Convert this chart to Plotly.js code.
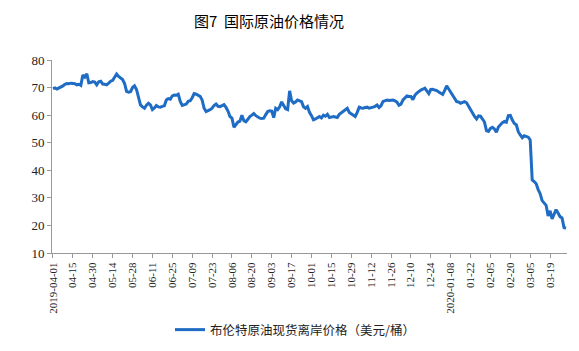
<!DOCTYPE html>
<html>
<head>
<meta charset="utf-8">
<script src="https://cdn.plot.ly/plotly-3.0.1.min.js"></script>
<style>html,body{margin:0;padding:0;background:#fff;}#chart{width:579px;height:351px;}</style>
</head>
<body>
<div id="chart"></div>
<script>
const dates = [
"2019-04-01","2019-04-02","2019-04-03","2019-04-04","2019-04-05","2019-04-08","2019-04-09","2019-04-10","2019-04-11","2019-04-12",
"2019-04-15","2019-04-16","2019-04-17","2019-04-18","2019-04-22","2019-04-23","2019-04-24","2019-04-25","2019-04-26","2019-04-29",
"2019-04-30","2019-05-01","2019-05-02","2019-05-03","2019-05-06","2019-05-07","2019-05-08","2019-05-09","2019-05-10","2019-05-13",
"2019-05-14","2019-05-15","2019-05-16","2019-05-17","2019-05-20","2019-05-21","2019-05-22","2019-05-23","2019-05-24","2019-05-27",
"2019-05-28","2019-05-29","2019-05-30","2019-05-31","2019-06-03","2019-06-04","2019-06-05","2019-06-06","2019-06-07","2019-06-10",
"2019-06-11","2019-06-12","2019-06-13","2019-06-14","2019-06-17","2019-06-18","2019-06-19","2019-06-20","2019-06-21","2019-06-24",
"2019-06-25","2019-06-26","2019-06-27","2019-06-28","2019-07-01","2019-07-02","2019-07-03","2019-07-04","2019-07-05","2019-07-08",
"2019-07-09","2019-07-10","2019-07-11","2019-07-12","2019-07-15","2019-07-16","2019-07-17","2019-07-18","2019-07-19","2019-07-22",
"2019-07-23","2019-07-24","2019-07-25","2019-07-26","2019-07-29","2019-07-30","2019-07-31","2019-08-01","2019-08-02","2019-08-05",
"2019-08-06","2019-08-07","2019-08-08","2019-08-09","2019-08-12","2019-08-13","2019-08-14","2019-08-15","2019-08-16","2019-08-19",
"2019-08-20","2019-08-21","2019-08-22","2019-08-23","2019-08-26","2019-08-27","2019-08-28","2019-08-29","2019-08-30","2019-09-02",
"2019-09-03","2019-09-04","2019-09-05","2019-09-06","2019-09-09","2019-09-10","2019-09-11","2019-09-12","2019-09-13","2019-09-16",
"2019-09-17","2019-09-18","2019-09-19","2019-09-20","2019-09-23","2019-09-24","2019-09-25","2019-09-26","2019-09-27","2019-09-30",
"2019-10-01","2019-10-02","2019-10-03","2019-10-04","2019-10-07","2019-10-08","2019-10-09","2019-10-10","2019-10-11","2019-10-14",
"2019-10-15","2019-10-16","2019-10-17","2019-10-18","2019-10-21","2019-10-22","2019-10-23","2019-10-24","2019-10-25","2019-10-28",
"2019-10-29","2019-10-30","2019-10-31","2019-11-01","2019-11-04","2019-11-05","2019-11-06","2019-11-07","2019-11-08","2019-11-11",
"2019-11-12","2019-11-13","2019-11-14","2019-11-15","2019-11-18","2019-11-19","2019-11-20","2019-11-21","2019-11-22","2019-11-25",
"2019-11-26","2019-11-27","2019-11-28","2019-11-29","2019-12-02","2019-12-03","2019-12-04","2019-12-05","2019-12-06","2019-12-09",
"2019-12-10","2019-12-11","2019-12-12","2019-12-13","2019-12-16","2019-12-17","2019-12-18","2019-12-19","2019-12-20","2019-12-23",
"2019-12-24","2019-12-26","2019-12-27","2019-12-30","2019-12-31","2020-01-01","2020-01-02","2020-01-03","2020-01-06","2020-01-07",
"2020-01-08","2020-01-09","2020-01-10","2020-01-13","2020-01-14","2020-01-15","2020-01-16","2020-01-17","2020-01-20","2020-01-21",
"2020-01-22","2020-01-23","2020-01-24","2020-01-27","2020-01-28","2020-01-29","2020-01-30","2020-01-31","2020-02-03","2020-02-04",
"2020-02-05","2020-02-06","2020-02-07","2020-02-10","2020-02-11","2020-02-12","2020-02-13","2020-02-14","2020-02-18","2020-02-19",
"2020-02-20","2020-02-21","2020-02-24","2020-02-25","2020-02-26","2020-02-27","2020-02-28","2020-03-02","2020-03-03","2020-03-04",
"2020-03-05","2020-03-06","2020-03-09","2020-03-10","2020-03-11","2020-03-12","2020-03-13","2020-03-16","2020-03-17","2020-03-18",
"2020-03-19","2020-03-20","2020-03-23","2020-03-24","2020-03-25","2020-03-26","2020-03-27","2020-03-30","2020-03-31"
];

const brent = [
69.6,69.9,69.5,69.8,70.3,70.6,71.2,71.5,71.4,71.6,
71.5,71.4,71.0,71.2,70.8,74.5,73.8,75.0,71.7,71.8,
72.2,72.0,71.0,72.1,72.3,71.3,71.2,71.0,71.6,72.3,
72.6,74.0,74.9,74.0,73.4,72.9,71.5,68.6,68.3,68.5,
70.0,70.6,69.3,66.5,63.7,63.0,62.5,63.6,64.3,63.7,
62.0,62.6,63.5,63.0,62.9,63.2,63.4,65.5,66.0,65.8,
67.0,67.3,67.2,67.6,65.0,63.5,63.8,64.0,65.0,65.2,
66.3,67.8,67.6,67.3,66.8,65.5,62.5,61.3,61.6,62.0,
62.5,63.5,64.0,63.2,63.1,63.5,63.8,62.8,61.5,59.5,
58.9,55.6,56.8,57.5,57.8,60.0,58.0,57.6,58.5,59.5,
60.0,60.6,59.8,59.3,58.9,58.8,58.9,60.2,61.3,61.6,
61.5,59.1,62.5,62.0,63.0,64.8,63.5,62.3,62.0,68.8,
65.2,64.4,64.8,65.5,65.2,64.9,63.0,62.5,63.1,61.0,
59.8,58.3,58.6,59.0,59.5,59.0,60.0,59.6,60.3,59.1,
59.4,59.5,59.3,59.1,60.3,60.8,61.3,62.0,62.5,61.0,
60.5,60.0,59.5,61.0,62.9,62.6,62.5,62.8,62.9,62.5,
62.6,62.9,63.2,63.7,62.8,63.5,65.0,65.3,65.5,65.3,
65.3,65.5,65.2,64.7,63.6,64.0,65.5,66.3,67.0,66.8,
66.8,65.6,67.2,68.0,68.6,69.1,69.4,69.8,68.8,67.8,
69.3,69.4,69.1,68.9,68.4,67.9,67.5,69.0,70.6,69.5,
68.3,67.0,65.8,64.9,64.8,64.3,64.6,64.9,64.5,63.3,
62.5,60.8,59.5,58.6,59.7,59.6,58.6,57.5,54.4,54.1,
55.2,55.6,55.0,53.8,55.7,56.7,57.3,57.7,57.4,59.8,
59.9,58.2,57.0,56.5,54.0,52.8,51.8,52.5,52.3,52.0,
51.0,36.5,35.9,35.1,33.0,31.5,29.0,28.1,27.3,23.4,
25.3,22.4,24.3,25.7,24.5,23.2,22.7,19.2,19.0
];

const tickDates = ["2019-04-01","2019-04-15","2019-04-30","2019-05-14","2019-05-28","2019-06-11","2019-06-25","2019-07-09","2019-07-23","2019-08-06","2019-08-20","2019-09-03","2019-09-17","2019-10-01","2019-10-15","2019-10-29","2019-11-12","2019-11-26","2019-12-10","2019-12-24","2020-01-08","2020-01-22","2020-02-05","2020-02-20","2020-03-05","2020-03-19"];
const tickLabels = ["2019-04-01","04-15","04-30","05-14","05-28","06-11","06-25","07-09","07-23","08-06","08-20","09-03","09-17","10-01","10-15","10-29","11-12","11-26","12-10","12-24","2020-01-08","01-22","02-05","02-20","03-05","03-19"];

const seriesName = "布伦特原油现货离岸价格（美元/桶）";
const chartTitle = "图7  国际原油价格情况";

const trace = {
  x: dates, y: brent, type: "scatter", mode: "lines", name: seriesName,
  line: {color: "#1F6CC4", width: 3}, showlegend: true
};

const serif = "'Liberation Serif', 'DejaVu Serif', serif";

const layout = {
  width: 579, height: 351,
  margin: {l: 52, r: 12, t: 60, b: 98},
  paper_bgcolor: "#fff", plot_bgcolor: "#fff",
  title: {text: chartTitle, x: 269/579, xanchor: "center", xref: "container", y: 1 - 22/351, yanchor: "middle", yref: "container",
          font: {family: "Noto Sans CJK SC", size: 15, color: "#000"}},
  xaxis: {
    type: "category", range: [-0.5, dates.length - 0.5],
    tickmode: "array", tickvals: tickDates, ticktext: tickLabels, tickangle: -90,
    showgrid: false, zeroline: false, showline: true, linecolor: "#999", linewidth: 1,
    ticks: "outside", ticklen: 4, tickcolor: "#999",
    tickfont: {family: serif, size: 11, color: "#222"}
  },
  yaxis: {
    range: [10, 80], dtick: 10, tick0: 10,
    showgrid: false, zeroline: false, showline: true, linecolor: "#999", linewidth: 1,
    ticks: "outside", ticklen: 4, tickcolor: "#999",
    tickfont: {family: serif, size: 13, color: "#222"}
  },
  legend: {orientation: "h", xref: "container", yref: "container", x: 170/579, xanchor: "left", y: 1 - 330/351, yanchor: "middle",
           font: {family: "Noto Sans CJK SC", size: 12.5, color: "#222"}, bgcolor: "rgba(0,0,0,0)"},
  showlegend: true
};

Plotly.newPlot("chart", [trace], layout, {displayModeBar: false, staticPlot: true});
</script>
</body>
</html>
